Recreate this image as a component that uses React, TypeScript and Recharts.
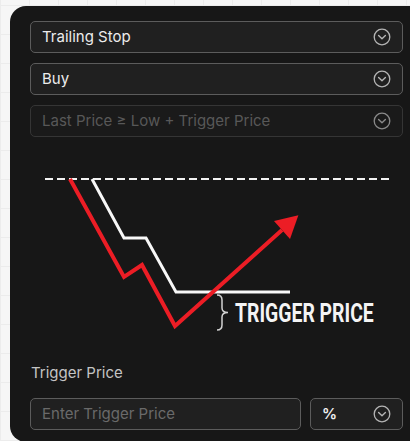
import React from "react";
import { LineChart, Line, XAxis, YAxis } from "recharts";

// Diagram values (time steps on x, price on y)
const priceTimes = [60, 114, 132, 165, 272];
const priceValues = [161, 63, 75, 14, 110];
const stopTimes = [82, 114, 136, 166, 280];
const stopValues = [161, 102, 102, 48, 48];
const highTimes = [35, 380];
const highValues = [161, 161];

const dropdownLabels = ["Trailing Stop", "Buy", "Last Price \u2265 Low + Trigger Price"];
const triggerLabel = "Trigger Price";
const inputPlaceholder = "Enter Trigger Price";
const unitLabel = "%";
const diagramLabel = "TRIGGER PRICE";

const priceData = priceTimes.map((t, i) => ({ t, v: priceValues[i] }));
const stopData = stopTimes.map((t, i) => ({ t, v: stopValues[i] }));
const highData = highTimes.map((t, i) => ({ t, v: highValues[i] }));

const FONT = "Inter, 'Noto Sans', sans-serif";

function Chevron({ dim }: { dim?: boolean }) {
  const c = dim ? "#8a8a8a" : "#b5b5b5";
  return (
    <svg width="18" height="18" viewBox="0 0 18 18" style={{ position: "absolute", right: 11, top: "50%", marginTop: -9 }}>
      <circle cx="9" cy="9" r="7.8" fill="none" stroke={c} strokeWidth="1.3" />
      <polyline points="5.6,7.6 9,10.8 12.4,7.6" fill="none" stroke={c} strokeWidth="1.4" strokeLinecap="round" strokeLinejoin="round" />
    </svg>
  );
}

function Box({ top, left, width, text, dim, textColor, chevron = true, bold }: any) {
  return (
    <div
      style={{
        position: "absolute",
        left,
        top,
        width,
        height: 32,
        boxSizing: "border-box",
        borderRadius: 5,
        border: `1.5px solid ${dim ? "#353535" : "#5c5c5c"}`,
        background: dim ? "#1a1a1a" : "#202020",
      }}
    >
      <div
        style={{
          position: "absolute",
          left: 11,
          top: 0,
          lineHeight: "29px",
          fontSize: 15,
          fontWeight: bold ? 600 : 400,
          color: textColor,
          fontFamily: FONT,
          whiteSpace: "nowrap",
        }}
      >
        {text}
      </div>
      {chevron && <Chevron dim={dim} />}
    </div>
  );
}

const lastIdx = priceData.length - 1;
const ArrowDot = (props: any) => {
  const { cx, cy, index } = props;
  if (index !== lastIdx) return <g key={`d${index}`} />;
  const dx = priceTimes[lastIdx] - priceTimes[lastIdx - 1];
  const dy = -(priceValues[lastIdx] - priceValues[lastIdx - 1]);
  const len = Math.sqrt(dx * dx + dy * dy);
  const ux = dx / len;
  const uy = dy / len;
  const L = 22;
  const W = 12;
  const tip = [cx + ux * L, cy + uy * L];
  const a = [cx - uy * W, cy + ux * W];
  const b = [cx + uy * W, cy - ux * W];
  return (
    <polygon
      key={`d${index}`}
      points={`${tip[0]},${tip[1]} ${a[0]},${a[1]} ${b[0]},${b[1]}`}
      fill="#ec1d25"
    />
  );
};

export default function App() {
  const grid = "repeating-linear-gradient(0deg, #ececec 0 1px, transparent 1px 29px), repeating-linear-gradient(90deg, #ececec 0 1px, transparent 1px 29px)";
  return (
    <div style={{ position: "fixed", left: 0, top: 0, width: 410, height: 441, overflow: "hidden", background: "#f6f6f6", backgroundImage: grid }}>
      <div
        style={{
          position: "absolute",
          left: 10,
          top: 6,
          width: 420,
          height: 436,
          background: "#171717",
          borderRadius: 16,
        }}
      />
      <Box top={21} left={30} width={373} text={dropdownLabels[0]} textColor="#ececec" />
      <Box top={63} left={30} width={373} text={dropdownLabels[1]} textColor="#ececec" />
      <Box top={105} left={30} width={373} text={dropdownLabels[2]} textColor="#585858" dim />

      <div style={{ position: "absolute", left: 10, top: 150 }}>
        <LineChart width={400} height={190} margin={{ top: 0, right: 0, bottom: 0, left: 0 }}>
          <XAxis type="number" dataKey="t" domain={[0, 400]} hide allowDataOverflow />
          <YAxis type="number" dataKey="v" domain={[0, 190]} hide allowDataOverflow />
          <Line data={highData} dataKey="v" type="linear" stroke="#f2f2f2" strokeWidth={2} strokeDasharray="8 4" dot={false} isAnimationActive={false} />
          <Line data={stopData} dataKey="v" type="linear" stroke="#f7f7f7" strokeWidth={3} strokeLinejoin="miter" dot={false} isAnimationActive={false} />
          <Line data={priceData} dataKey="v" type="linear" stroke="#ec1d25" strokeWidth={4} strokeLinejoin="miter" dot={ArrowDot} activeDot={false} isAnimationActive={false} />
        </LineChart>
      </div>

      <svg width="410" height="441" style={{ position: "absolute", left: 0, top: 0, pointerEvents: "none" }}>
        <path
          d="M217,295 C221,295 222,297 222,300 L222,308 C222,311 224,312.5 228,312.5 C224,312.5 222,314 222,317 L222,325 C222,328 221,330 217,330"
          fill="none"
          stroke="#d2d2d2"
          strokeWidth={1.5}
        />
        <g transform="translate(235,322) scale(0.775,1)">
          <text x={0} y={0} fontSize={25} fontWeight={700} fill="#f4f4f4" fontFamily="Roboto, 'DejaVu Sans', sans-serif">
            {diagramLabel}
          </text>
        </g>
      </svg>

      <div style={{ position: "absolute", left: 31, top: 363, fontSize: 15, color: "#c4c4c4", fontFamily: FONT }}>{triggerLabel}</div>
      <Box top={398} left={30} width={271} text={inputPlaceholder} textColor="#6a6a6a" chevron={false} />
      <Box top={398} left={310} width={93} text={unitLabel} textColor="#f0f0f0" bold />
    </div>
  );
}
